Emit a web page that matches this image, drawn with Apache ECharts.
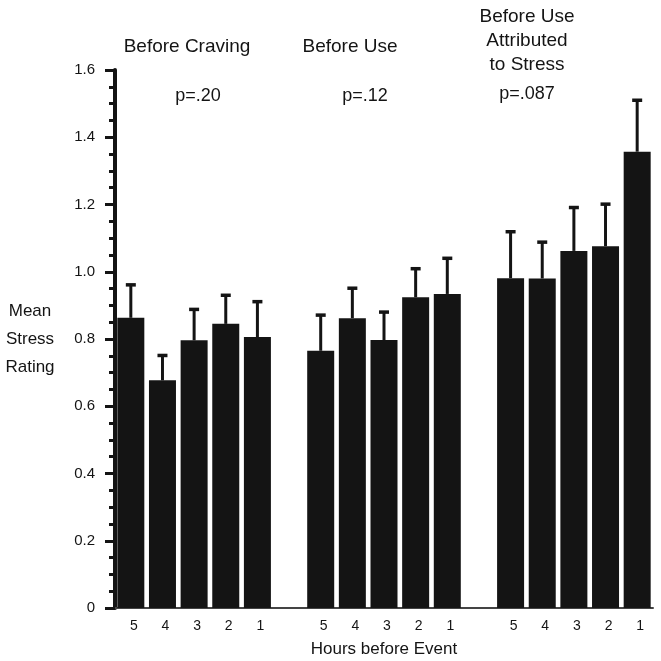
<!DOCTYPE html>
<html>
<head>
<meta charset="utf-8">
<script src="https://cdn.jsdelivr.net/npm/echarts@6/dist/echarts.min.js"></script>
<style>html,body{margin:0;padding:0;background:#fff;overflow:hidden;}#c{width:661px;height:661px;}</style>
</head>
<body>
<div id="c"></div>
<script>
const hours = ['5', '4', '3', '2', '1'];
const groupTitles = ['Before Craving', 'Before Use', 'Before Use\nAttributed\nto Stress'];
const pValues = ['p=.20', 'p=.12', 'p=.087'];
const cravingMean = [0.863, 0.677, 0.796, 0.845, 0.806];
const cravingUpper = [0.964, 0.754, 0.891, 0.933, 0.914];
const useMean = [0.765, 0.862, 0.797, 0.924, 0.934];
const useUpper = [0.874, 0.954, 0.883, 1.012, 1.043];
const stressMean = [0.981, 0.980, 1.062, 1.076, 1.357];
const stressUpper = [1.122, 1.091, 1.194, 1.204, 1.513];

const groupsMean = [cravingMean, useMean, stressMean];
const groupsUpper = [cravingUpper, useUpper, stressUpper];

const categories = [];
const barData = [];
const errData = [];
groupsMean.forEach((g, gi) => {
  if (gi > 0) { categories.push(''); barData.push('-'); }
  g.forEach((v, i) => {
    categories.push(hours[i]);
    errData.push([categories.length - 1, v, groupsUpper[gi][i]]);
    barData.push(v);
  });
});

const ink = '#141414';
const FF = '"Liberation Sans", Arial, Helvetica, sans-serif';
function txt(x, y, text, size, extra) {
  return Object.assign({ type: 'text', x: x, y: y, silent: true,
    style: { text: text, fill: ink, fontSize: size, fontFamily: FF,
      align: 'center', verticalAlign: 'middle', lineHeight: 24 } }, extra || {});
}
const chart = echarts.init(document.getElementById('c'));
chart.setOption({
  animation: false,
  backgroundColor: '#fff',
  textStyle: { fontFamily: FF },
  grid: { left: 115, right: 8, top: 70, bottom: 53, containLabel: false, outerBoundsMode: 'none' },
  xAxis: {
    type: 'category',
    data: categories,
    name: 'Hours before Event',
    nameLocation: 'middle',
    nameGap: 33,
    nameTextStyle: { fontSize: 17, color: ink, fontFamily: FF },
    axisLine: { show: true, lineStyle: { color: '#444', width: 2 } },
    axisTick: { show: false },
    axisLabel: { fontSize: 14, color: ink, margin: 11, interval: 0, padding: [0, 0, 0, 6], fontFamily: FF },
    splitLine: { show: false }
  },
  yAxis: {
    type: 'value',
    min: 0, max: 1.6, interval: 0.2,
    name: 'Mean\nStress\nRating',
    nameLocation: 'middle',
    nameRotate: 0,
    nameGap: 85,
    nameTextStyle: { fontSize: 17, color: ink, lineHeight: 28, align: 'center', fontFamily: FF },
    axisLine: { show: true, lineStyle: { color: ink, width: 4 } },
    axisTick: { show: true, length: 10, lineStyle: { color: ink, width: 3 } },
    minorTick: { show: true, splitNumber: 4, length: 6, lineStyle: { color: ink, width: 3 } },
    axisLabel: { fontSize: 15, color: ink, margin: 20, fontFamily: FF,
      formatter: v => (v === 0 ? '0' : v.toFixed(1)) },
    splitLine: { show: false }
  },
  series: [
    {
      type: 'bar',
      data: barData,
      barWidth: 27,
      itemStyle: { color: ink },
      z: 2
    },
    {
      type: 'custom',
      data: errData,
      z: 3,
      renderItem: function (params, api) {
        const x = api.value(0);
        const base = api.coord([x, api.value(1)]);
        const top = api.coord([x, api.value(2)]);
        return {
          type: 'group',
          children: [
            { type: 'line', shape: { x1: base[0], y1: base[1], x2: top[0], y2: top[1] + 1 },
              style: { stroke: ink, lineWidth: 3 } },
            { type: 'line', shape: { x1: top[0] - 5, y1: top[1] + 1, x2: top[0] + 5, y2: top[1] + 1 },
              style: { stroke: ink, lineWidth: 3.5 } }
          ]
        };
      }
    }
  ],
  graphic: [
    txt(187, 47, groupTitles[0], 19),
    txt(350, 47, groupTitles[1], 19),
    txt(527, 41, groupTitles[2], 19),
    txt(198, 96, pValues[0], 18),
    txt(365, 96, pValues[1], 18),
    txt(527, 94, pValues[2], 18)
  ]
});
</script>
</body>
</html>
